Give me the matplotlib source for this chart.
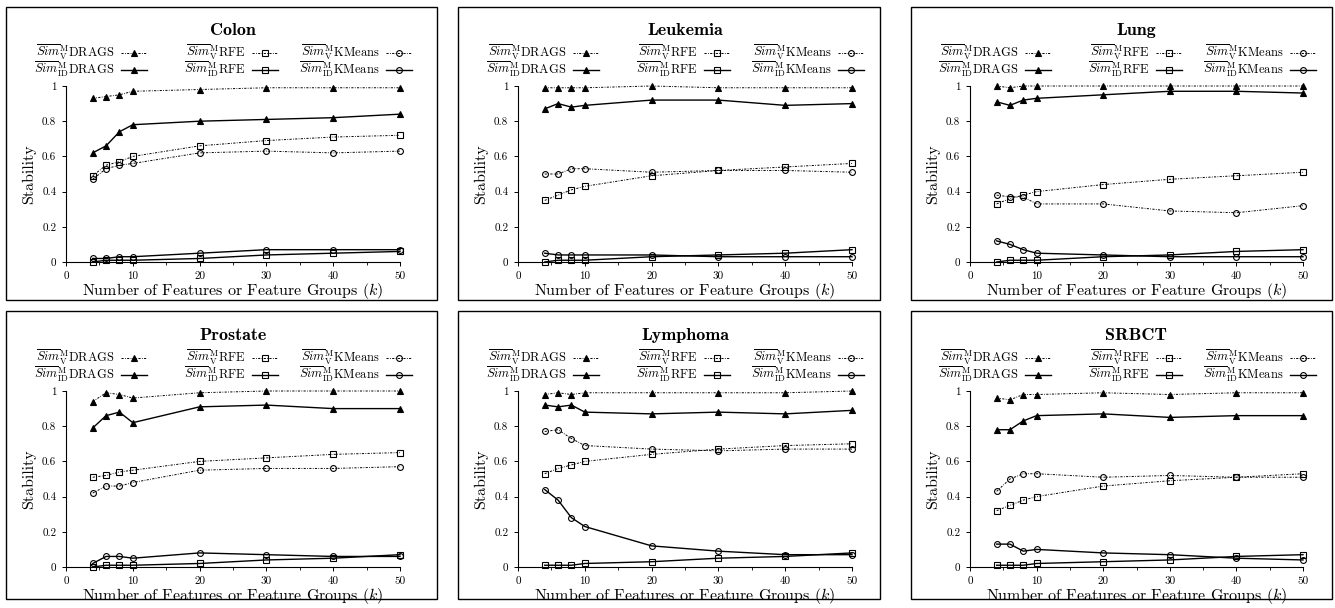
import matplotlib
matplotlib.use("Agg")
import matplotlib.pyplot as plt
from matplotlib.legend import Legend
from matplotlib.patches import Rectangle

plt.rcParams['font.family'] = 'cmr10'
plt.rcParams['mathtext.fontset'] = 'cm'
plt.rcParams['axes.unicode_minus'] = False

k_values = [4, 6, 8, 10, 20, 30, 40, 50]
x_ticks = [0, 10, 20, 30, 40, 50]
y_ticks = [0, 0.2, 0.4, 0.6, 0.8, 1]
y_tick_labels = ['0', '0.2', '0.4', '0.6', '0.8', '1']

datasets = ['Colon', 'Leukemia', 'Lung', 'Prostate', 'Lymphoma', 'SRBCT']

# per dataset: [DRAGS V, DRAGS ID, RFE V, RFE ID, KMeans V, KMeans ID]
colon = [
    [0.93, 0.94, 0.95, 0.97, 0.98, 0.99, 0.99, 0.99],
    [0.62, 0.66, 0.74, 0.78, 0.80, 0.81, 0.82, 0.84],
    [0.49, 0.55, 0.57, 0.60, 0.66, 0.69, 0.71, 0.72],
    [0.00, 0.01, 0.01, 0.01, 0.02, 0.04, 0.05, 0.06],
    [0.47, 0.53, 0.55, 0.56, 0.62, 0.63, 0.62, 0.63],
    [0.02, 0.02, 0.03, 0.03, 0.05, 0.07, 0.07, 0.07],
]
leukemia = [
    [0.99, 0.99, 0.99, 0.99, 1.00, 0.99, 0.99, 0.99],
    [0.87, 0.90, 0.88, 0.89, 0.92, 0.92, 0.89, 0.90],
    [0.35, 0.38, 0.41, 0.43, 0.49, 0.52, 0.54, 0.56],
    [0.00, 0.01, 0.01, 0.01, 0.03, 0.04, 0.05, 0.07],
    [0.50, 0.50, 0.53, 0.53, 0.51, 0.52, 0.52, 0.51],
    [0.05, 0.04, 0.04, 0.04, 0.04, 0.03, 0.03, 0.03],
]
lung = [
    [1.00, 0.99, 1.00, 1.00, 1.00, 1.00, 1.00, 1.00],
    [0.91, 0.89, 0.92, 0.93, 0.95, 0.97, 0.97, 0.96],
    [0.33, 0.36, 0.38, 0.40, 0.44, 0.47, 0.49, 0.51],
    [0.00, 0.01, 0.01, 0.01, 0.03, 0.04, 0.06, 0.07],
    [0.38, 0.37, 0.37, 0.33, 0.33, 0.29, 0.28, 0.32],
    [0.12, 0.10, 0.07, 0.05, 0.04, 0.03, 0.03, 0.03],
]
prostate = [
    [0.94, 0.99, 0.98, 0.96, 0.99, 1.00, 1.00, 1.00],
    [0.79, 0.86, 0.88, 0.82, 0.91, 0.92, 0.90, 0.90],
    [0.51, 0.52, 0.54, 0.55, 0.60, 0.62, 0.64, 0.65],
    [0.00, 0.01, 0.01, 0.01, 0.02, 0.04, 0.05, 0.07],
    [0.42, 0.46, 0.46, 0.48, 0.55, 0.56, 0.56, 0.57],
    [0.02, 0.06, 0.06, 0.05, 0.08, 0.07, 0.06, 0.06],
]
lymphoma = [
    [0.98, 0.99, 0.98, 0.99, 0.99, 0.99, 0.99, 1.00],
    [0.92, 0.91, 0.92, 0.88, 0.87, 0.88, 0.87, 0.89],
    [0.53, 0.56, 0.58, 0.60, 0.64, 0.67, 0.69, 0.70],
    [0.01, 0.01, 0.01, 0.02, 0.03, 0.05, 0.06, 0.08],
    [0.77, 0.78, 0.73, 0.69, 0.67, 0.66, 0.67, 0.67],
    [0.44, 0.38, 0.28, 0.23, 0.12, 0.09, 0.07, 0.07],
]
srbct = [
    [0.96, 0.95, 0.98, 0.98, 0.99, 0.98, 0.99, 0.99],
    [0.78, 0.78, 0.83, 0.86, 0.87, 0.85, 0.86, 0.86],
    [0.32, 0.35, 0.38, 0.40, 0.46, 0.49, 0.51, 0.53],
    [0.01, 0.01, 0.01, 0.02, 0.03, 0.04, 0.06, 0.07],
    [0.43, 0.50, 0.53, 0.53, 0.51, 0.52, 0.51, 0.51],
    [0.13, 0.13, 0.09, 0.10, 0.08, 0.07, 0.05, 0.04],
]
all_data = [colon, leukemia, lung, prostate, lymphoma, srbct]

methods = ['DRAGS', 'RFE', 'KMeans']
markers = ['^', 's', 'o']
v_label = r'$\overline{Sim}^{\mathrm{M}}_{\mathrm{V}}$'
id_label = r'$\overline{Sim}^{\mathrm{M}}_{\mathrm{ID}}$'
dotted = (0, (2.2, 1.4, 0.8, 1.4))

W, H = 1335, 608
fig = plt.figure(figsize=(W / 100, H / 100), dpi=100)

# pixel layout: columns (box_left, box_right, ax_left, ax_right), rows (box_top, box_bottom, ax_top, ax_bottom)
col_px = [(6, 437, 66, 400), (458, 880, 518, 852), (911, 1332, 970, 1303)]
row_px = [(7, 300, 86, 262), (311, 599, 391, 567)]
legend_ends = [147, 278, 412]  # right edge of each legend column, px in the left panel

for i, (name, data) in enumerate(zip(datasets, all_data)):
    r, c = divmod(i, 3)
    bl, br, ax_l, ax_r = col_px[c]
    bt, bb, ax_t, ax_b = row_px[r]
    fig.add_artist(Rectangle((bl / W, 1 - bb / H), (br - bl) / W, (bb - bt) / H,
                             transform=fig.transFigure, fill=False, lw=1.0, ec='k'))
    ax = fig.add_axes([ax_l / W, 1 - ax_b / H, (ax_r - ax_l) / W, (ax_b - ax_t) / H])

    handles = []
    for m, (meth, mk) in enumerate(zip(methods, markers)):
        v_vals = data[2 * m]
        id_vals = data[2 * m + 1]
        fc = 'k' if mk == '^' else 'none'
        ms = 4.4 if mk == '^' else 4.2
        hv, = ax.plot(k_values, v_vals, ls=dotted, lw=0.7, color='k', marker=mk,
                      ms=ms, mfc=fc, mec='k', mew=0.8, clip_on=False,
                      label=v_label + meth)
        hi, = ax.plot(k_values, id_vals, ls='-', lw=1.0, color='k', marker=mk,
                      ms=ms, mfc=fc, mec='k', mew=0.8, clip_on=False,
                      label=id_label + meth)
        handles.append((hv, hi))

    ax.set_xlim(0, 50)
    ax.set_ylim(0, 1)
    ax.set_xticks(x_ticks)
    ax.set_xticks([5, 15, 25, 35, 45], minor=True)
    ax.set_yticks(y_ticks)
    ax.set_yticklabels(y_tick_labels)
    ax.tick_params(labelsize=8, length=3, width=0.7, pad=4)
    ax.tick_params(axis='x', which='minor', length=2, width=0.6)
    for s in ['top', 'right']:
        ax.spines[s].set_visible(False)
    for s in ['left', 'bottom']:
        ax.spines[s].set_linewidth(0.8)

    ax.set_xlabel(r'Number of Features or Feature Groups ($k$)', fontsize=11.5, labelpad=0)
    ax.set_ylabel('Stability', fontsize=11.5, labelpad=4)
    ax.set_title(name, fontsize=13, family='cmb10', pad=37)

    span = ax_r - ax_l
    for m in range(3):
        hv, hi = handles[m]
        leg = Legend(ax, [hv, hi], [hv.get_label(), hi.get_label()],
                     loc='upper right',
                     bbox_to_anchor=((legend_ends[m] - 66) / span, 1 + 43 / (ax_b - ax_t)),
                     frameon=False, fontsize=9, markerfirst=False,
                     handlelength=2.1, handletextpad=0.5, borderpad=0,
                     borderaxespad=0, labelspacing=-0.2)
        ax.add_artist(leg)

fig.savefig('out.png', dpi=100)
